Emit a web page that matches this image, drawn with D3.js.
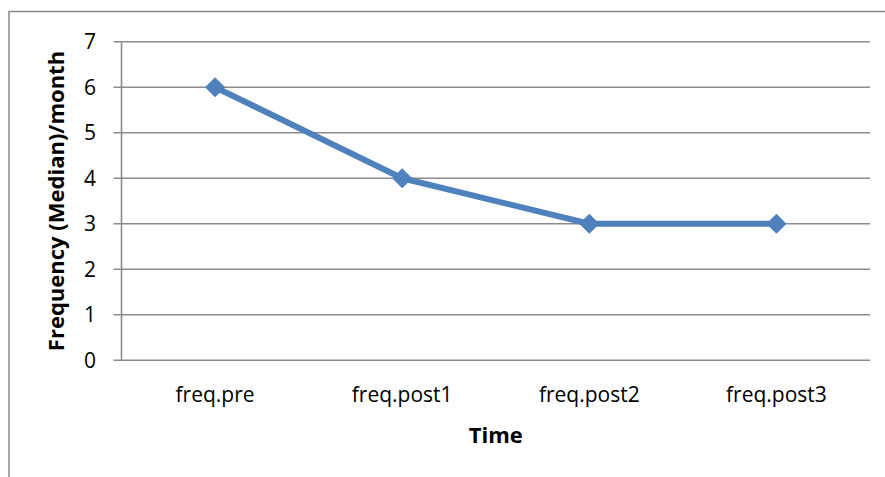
<!DOCTYPE html>
<html><head><meta charset="utf-8">
<script src="https://cdn.jsdelivr.net/npm/d3@7"></script>
<style>body{margin:0;background:#fff}svg{display:block}text{font-family:"Open Sans",Lato,sans-serif;fill:#000}</style>
</head><body><svg id="c" width="885" height="477"></svg>
<script>
const categories = ["freq.pre","freq.post1","freq.post2","freq.post3"];
const values = [6,4,3,3];
const yTicks = [0,1,2,3,4,5,6,7];

const svg = d3.select("#c");
const L=121.5, R=870, T=41.7, B=360.3;

svg.append("rect").attr("x",9).attr("y",11.5).attr("width",885).attr("height",480)
  .attr("fill","#fff").attr("stroke","#8a8a8a").attr("stroke-width",1.5);

const x = d3.scaleBand().domain(categories).range([L,R]);
const y = d3.scaleLinear().domain([0,7]).range([B,T]);

// gridlines
svg.append("g").selectAll("line").data(yTicks).join("line")
  .attr("x1",L-8).attr("x2",R).attr("y1",d=>y(d)).attr("y2",d=>y(d))
  .attr("stroke","#8c8c8c").attr("stroke-width",1.6);
// y axis line
svg.append("line").attr("x1",L).attr("x2",L).attr("y1",T).attr("y2",B)
  .attr("stroke","#8c8c8c").attr("stroke-width",1.6);

// y tick labels
svg.append("g").selectAll("text").data(yTicks).join("text")
  .attr("x",96).attr("y",d=>y(d)).attr("dy","0.36em").attr("text-anchor","end")
  .style("font-size","21px").text(d=>d);

// x labels
svg.append("g").selectAll("text").data(categories).join("text")
  .attr("x",d=>x(d)+x.bandwidth()/2).attr("y",402).attr("text-anchor","middle")
  .style("font-size","21px").text(d=>d);

// axis titles
svg.append("text").attr("x",(L+R)/2).attr("y",443).attr("text-anchor","middle")
  .style("font-size","22px").style("font-weight","bold").text("Time");
svg.append("text").attr("transform",`translate(64,${(T+B)/2}) rotate(-90)`)
  .attr("text-anchor","middle").style("font-size","22px").style("font-weight","bold")
  .text("Frequency (Median)/month");

// line
const pts = categories.map((c,i)=>[x(c)+x.bandwidth()/2, y(values[i])]);
svg.append("path").attr("d",d3.line()(pts)).attr("fill","none")
  .attr("stroke","#4f81bd").attr("stroke-width",6).attr("stroke-linejoin","round");
svg.append("g").selectAll("path").data(pts).join("path")
  .attr("transform",d=>`translate(${d[0]},${d[1]})`)
  .attr("d",d3.symbol(d3.symbolDiamond2,230)())
  .attr("fill","#4f81bd").attr("stroke","#4a7ebb").attr("stroke-width",1);
</script></body></html>
